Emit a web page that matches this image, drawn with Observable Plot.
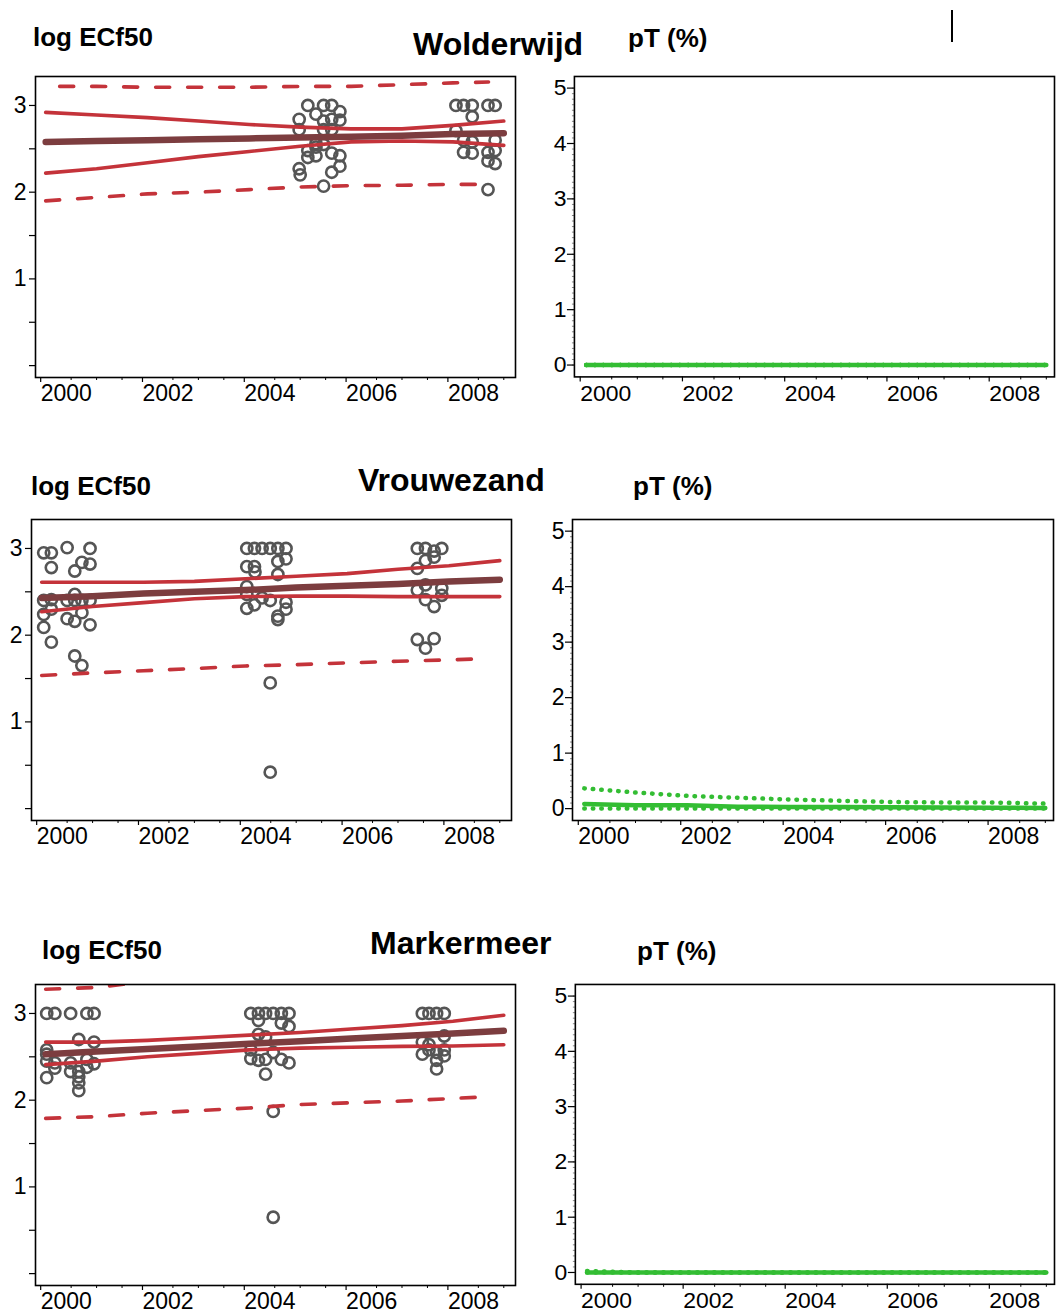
<!DOCTYPE html>
<html>
<head>
<meta charset="utf-8">
<script src="https://cdn.jsdelivr.net/npm/d3@7"></script>
<script src="https://cdn.jsdelivr.net/npm/@observablehq/plot@0.6"></script>
<style>
html,body{margin:0;padding:0;background:#fff;overflow:hidden;}
#root{position:relative;width:1056px;height:1315px;font-family:"Liberation Sans",Arial,Helvetica,sans-serif;}
.t{position:absolute;font-weight:bold;line-height:1;white-space:nowrap;color:#000;}
.big{font-size:32px;}
.small{font-size:26px;}
.panel{position:absolute;}
.stray{position:absolute;left:951px;top:10px;width:2px;height:32px;background:#000;}
</style>
</head>
<body>
<div id="root">
  <div class="t small" style="left:33px;top:24px">log ECf50</div>
  <div class="t big" style="left:413px;top:28px">Wolderwijd</div>
  <div class="t small" style="left:628px;top:25px">pT (%)</div>
  <div class="stray"></div>

  <div class="t small" style="left:31px;top:473px">log ECf50</div>
  <div class="t big" style="left:358px;top:464px">Vrouwezand</div>
  <div class="t small" style="left:633px;top:473px">pT (%)</div>

  <div class="t small" style="left:42px;top:937px">log ECf50</div>
  <div class="t big" style="left:370px;top:927px">Markermeer</div>
  <div class="t small" style="left:637px;top:938px">pT (%)</div>
</div>
<script>
// ---------- data ----------
const lineYears = [2000, 2001, 2002, 2003, 2004, 2005, 2006, 2007, 2008, 2009];
const bandYears = [2000, 2001, 2002, 2003, 2004, 2005, 2006, 2007, 2008, 2008.7];
const majorYears = [2000, 2002, 2004, 2006, 2008];
const logTicks = [0, 0.5, 1, 1.5, 2, 2.5, 3];
const logLabels = [1, 2, 3];
const ptTicks = [0, 1, 2, 3, 4, 5];

// Wolderwijd
const woldPts = [
  [2005.15,3.0],[2005.46,3.0],[2005.62,3.0],[2005.78,2.93],[2005.31,2.90],[2004.98,2.84],
  [2005.62,2.84],[2005.78,2.83],[2005.46,2.82],[2004.98,2.72],[2005.46,2.72],[2005.62,2.72],
  [2005.31,2.56],[2005.46,2.55],[2005.15,2.48],[2005.31,2.52],[2005.15,2.40],[2005.31,2.42],
  [2005.62,2.45],[2005.78,2.42],[2005.78,2.30],[2005.62,2.23],[2004.98,2.27],[2005.0,2.20],
  [2005.46,2.07],
  [2008.06,3.0],[2008.21,3.0],[2008.38,3.0],[2008.69,3.0],[2008.83,3.0],[2008.38,2.87],
  [2008.06,2.71],[2008.21,2.60],[2008.38,2.58],[2008.21,2.46],[2008.38,2.45],[2008.83,2.60],
  [2008.69,2.46],[2008.83,2.48],[2008.69,2.36],[2008.83,2.33],[2008.69,2.03]
];
const woldMean = [2.58, 2.59, 2.60, 2.61, 2.62, 2.63, 2.64, 2.65, 2.67, 2.68];
const woldCiHi = [2.92, 2.89, 2.86, 2.82, 2.78, 2.75, 2.73, 2.73, 2.77, 2.82];
const woldCiLo = [2.22, 2.27, 2.34, 2.41, 2.47, 2.53, 2.58, 2.59, 2.58, 2.54];
const woldPiHi = [3.22, 3.22, 3.21, 3.21, 3.21, 3.22, 3.22, 3.24, 3.26, 3.27];
const woldPiLo = [1.90, 1.94, 1.98, 2.00, 2.03, 2.06, 2.075, 2.08, 2.09, 2.09];
const woldPtHi = [0, 0, 0, 0, 0, 0, 0, 0, 0, 0];
const woldPtMean = [0, 0, 0, 0, 0, 0, 0, 0, 0, 0];
const woldPtLo = [0, 0, 0, 0, 0, 0, 0, 0, 0, 0];

// Vrouwezand
const vrouPts = [
  [2000.04,2.95],[2000.19,2.95],[2000.50,3.01],[2000.95,3.0],[2000.19,2.78],[2000.65,2.74],
  [2000.79,2.84],[2000.95,2.82],[2000.04,2.40],[2000.19,2.41],[2000.50,2.40],[2000.65,2.47],
  [2000.79,2.40],[2000.95,2.40],[2000.04,2.24],[2000.19,2.30],[2000.50,2.19],[2000.65,2.16],
  [2000.79,2.26],[2000.95,2.12],[2000.04,2.09],[2000.19,1.92],[2000.65,1.76],[2000.79,1.65],
  [2000.65,2.40],
  [2004.03,3.0],[2004.18,3.0],[2004.33,3.0],[2004.49,3.0],[2004.64,3.0],[2004.80,3.0],
  [2004.80,2.88],[2004.64,2.85],[2004.03,2.79],[2004.18,2.79],[2004.19,2.73],[2004.64,2.70],
  [2004.03,2.56],[2004.03,2.47],[2004.33,2.43],[2004.49,2.40],[2004.80,2.38],[2004.18,2.35],
  [2004.03,2.31],[2004.80,2.30],[2004.64,2.22],[2004.64,2.18],[2004.49,1.45],[2004.49,0.42],
  [2007.38,3.0],[2007.54,3.0],[2007.71,2.97],[2007.86,3.0],[2007.71,2.90],[2007.54,2.86],
  [2007.38,2.77],[2007.38,2.52],[2007.54,2.58],[2007.86,2.54],[2007.86,2.46],[2007.54,2.41],
  [2007.71,2.33],[2007.38,1.95],[2007.71,1.96],[2007.54,1.85]
];
const vrouMean = [2.43, 2.45, 2.48, 2.50, 2.52, 2.55, 2.57, 2.59, 2.62, 2.64];
const vrouCiHi = [2.61, 2.61, 2.61, 2.62, 2.65, 2.68, 2.71, 2.76, 2.80, 2.86];
const vrouCiLo = [2.27, 2.33, 2.375, 2.42, 2.445, 2.45, 2.45, 2.445, 2.445, 2.445];
const vrouPiHi = [];
const vrouPiLo = [1.535, 1.565, 1.59, 1.615, 1.645, 1.66, 1.68, 1.70, 1.715, 1.73];
const vrouPtHi = [0.365, 0.29, 0.23, 0.195, 0.165, 0.14, 0.12, 0.11, 0.11, 0.09];
const vrouPtMean = [0.085, 0.06, 0.06, 0.036, 0.03, 0.028, 0.026, 0.02, 0.015, 0.012];
const vrouPtLo = [0, 0, 0, 0, 0, 0, 0, 0, 0, 0];

// Markermeer
const markPts = [
  [2000.02,3.0],[2000.18,3.0],[2000.49,3.0],[2000.81,3.0],[2000.95,3.0],[2000.65,2.70],
  [2000.95,2.67],[2000.02,2.58],[2000.02,2.53],[2000.02,2.45],[2000.18,2.43],[2000.18,2.37],
  [2000.49,2.43],[2000.49,2.33],[2000.65,2.33],[2000.81,2.47],[2000.81,2.38],[2000.95,2.42],
  [2000.65,2.27],[2000.65,2.20],[2000.65,2.11],[2000.02,2.26],
  [2004.03,3.0],[2004.18,3.0],[2004.32,3.0],[2004.47,3.0],[2004.63,3.0],[2004.78,3.0],
  [2004.18,2.92],[2004.63,2.89],[2004.78,2.85],[2004.18,2.76],[2004.32,2.73],[2004.03,2.58],
  [2004.47,2.55],[2004.03,2.48],[2004.18,2.46],[2004.32,2.47],[2004.63,2.47],[2004.78,2.43],
  [2004.32,2.30],[2004.47,1.87],[2004.47,0.65],
  [2007.40,3.0],[2007.53,3.0],[2007.68,3.0],[2007.83,3.0],[2007.83,2.74],[2007.40,2.67],
  [2007.53,2.64],[2007.53,2.58],[2007.40,2.53],[2007.68,2.55],[2007.83,2.58],[2007.83,2.51],
  [2007.68,2.46],[2007.68,2.36]
];
const markMean = [2.53, 2.56, 2.59, 2.62, 2.65, 2.68, 2.71, 2.74, 2.77, 2.80];
const markCiHi = [2.67, 2.67, 2.69, 2.72, 2.75, 2.78, 2.82, 2.86, 2.91, 2.98];
const markCiLo = [2.41, 2.45, 2.50, 2.54, 2.58, 2.60, 2.61, 2.62, 2.625, 2.64];
const markPiHi = [3.28, 3.30, 3.37];
const markPiLo = [1.79, 1.81, 1.85, 1.88, 1.91, 1.95, 1.97, 1.99, 2.02, 2.04];
const markPtHi = [0.025, 0, 0, 0, 0, 0, 0, 0, 0, 0];
const markPtMean = [0, 0, 0, 0, 0, 0, 0, 0, 0, 0];
const markPtLo = [0, 0, 0, 0, 0, 0, 0, 0, 0, 0];

// ---------- styling ----------
const RED = "#c4333a";
const BROWN = "#7c3d3f";
const GREY = "#555555";
const GREEN = "#33bd33";
const FONT = '"Liberation Sans", Arial, Helvetica, sans-serif';
const minorYears = d3.range(2000, 2009.01, 0.5).filter(y => y % 2 !== 0);
const ptMinor = d3.range(0, 51).map(i => i / 10);

const series = (xs, vs) => vs.map((v, i) => ({x: xs[i], y: v}));
const points = arr => arr.map(([x, y]) => ({x, y}));

function leftPanel(pts, mean, ciHi, ciLo, piHi, piLo, hiOffset = 0) {
  const M = {l: 40, r: 10, t: 10, b: 36};
  return Plot.plot({
    width: M.l + 480 + M.r, height: M.t + 301 + M.b,
    marginLeft: M.l, marginRight: M.r, marginTop: M.t, marginBottom: M.b,
    style: {fontFamily: FONT, fontSize: "23px", background: "transparent", overflow: "visible", color: "#000"},
    x: {domain: [1999.8, 2009.23], label: null},
    y: {domain: [-0.137, 3.334], label: null},
    marks: [
      Plot.axisY(logTicks, {tickSize: 6, tickPadding: 3, strokeWidth: 1.2, label: null,
        tickFormat: d => logLabels.includes(d) ? String(d) : ""}),
      Plot.axisX(minorYears, {tickSize: 3, strokeWidth: 1, label: null, tickFormat: () => ""}),
      Plot.axisX(majorYears, {tickSize: 5, tickPadding: 2.5, strokeWidth: 1.2, label: null,
        textAnchor: "start", dx: -5, tickFormat: d => String(d)}),
      Plot.dot(points(pts), {x: "x", y: "y", r: 5.6, stroke: GREY, strokeWidth: 2.6, fill: "none"}),
      Plot.line(series(bandYears, piHi), {x: "x", y: "y", stroke: RED, strokeWidth: 3.6,
        strokeDasharray: "14,18", strokeDashoffset: hiOffset, strokeLinecap: "round", clip: true}),
      Plot.line(series(bandYears, piLo), {x: "x", y: "y", stroke: RED, strokeWidth: 3.6,
        strokeDasharray: "14,18", strokeLinecap: "round", clip: true}),
      Plot.line(series(lineYears, ciHi), {x: "x", y: "y", stroke: RED, strokeWidth: 3.6, clip: true}),
      Plot.line(series(lineYears, ciLo), {x: "x", y: "y", stroke: RED, strokeWidth: 3.6, clip: true}),
      Plot.line(series(lineYears, mean), {x: "x", y: "y", stroke: BROWN, strokeWidth: 6.5, strokeLinecap: "round", clip: true}),
      Plot.frame({stroke: "#000", strokeWidth: 1.6})
    ]
  });
}

function rightPanel(hi, mean, lo) {
  const M = {l: 45, r: 2, t: 10, b: 36};
  return Plot.plot({
    width: M.l + 481 + M.r, height: M.t + 301 + M.b,
    marginLeft: M.l, marginRight: M.r, marginTop: M.t, marginBottom: M.b,
    style: {fontFamily: FONT, fontSize: "23px", background: "transparent", overflow: "visible", color: "#000"},
    x: {domain: [1999.77, 2009.16], label: null},
    y: {domain: [-0.214, 5.21], label: null},
    marks: [
      Plot.axisY(ptMinor, {tickSize: 2, strokeWidth: 0.8, strokeOpacity: 0.6, label: null, tickFormat: () => ""}),
      Plot.axisY(ptTicks, {tickSize: 7, tickPadding: 1, strokeWidth: 1.2, label: null, tickFormat: d => String(d)}),
      Plot.axisX(minorYears, {tickSize: 3, strokeWidth: 1, label: null, tickFormat: () => ""}),
      Plot.axisX(majorYears, {tickSize: 5, tickPadding: 2.5, strokeWidth: 1.2, label: null,
        textAnchor: "start", dx: -6, tickFormat: d => String(d)}),
      Plot.line(series(lineYears, lo), {x: "x", y: "y", stroke: GREEN, strokeWidth: 4.5,
        strokeDasharray: "0.5,8", strokeLinecap: "round"}),
      Plot.line(series(lineYears, mean), {x: "x", y: "y", stroke: GREEN, strokeWidth: 4.5}),
      Plot.line(series(lineYears, hi), {x: "x", y: "y", stroke: GREEN, strokeWidth: 4.5,
        strokeDasharray: "0.5,8", strokeLinecap: "round"}),
      Plot.frame({stroke: "#000", strokeWidth: 1.6})
    ]
  });
}

const root = document.getElementById("root");
function place(svg, left, top) {
  const d = document.createElement("div");
  d.className = "panel";
  d.style.left = left + "px";
  d.style.top = top + "px";
  d.appendChild(svg);
  root.appendChild(d);
}

// frames: left panels 480x301, right panels 481x301
place(leftPanel(woldPts, woldMean, woldCiHi, woldCiLo, woldPiHi, woldPiLo, 18), 34.5 - 40, 76 - 10);
place(rightPanel(woldPtHi, woldPtMean, woldPtLo), 574 - 45, 76 - 10);
place(leftPanel(vrouPts, vrouMean, vrouCiHi, vrouCiLo, vrouPiHi, vrouPiLo), 30.5 - 40, 518.5 - 10);
place(rightPanel(vrouPtHi, vrouPtMean, vrouPtLo), 572 - 45, 518.5 - 10);
place(leftPanel(markPts, markMean, markCiHi, markCiLo, markPiHi, markPiLo), 34.5 - 40, 983.5 - 10);
place(rightPanel(markPtHi, markPtMean, markPtLo), 575 - 45, 983.5 - 10);
</script>
</body>
</html>
